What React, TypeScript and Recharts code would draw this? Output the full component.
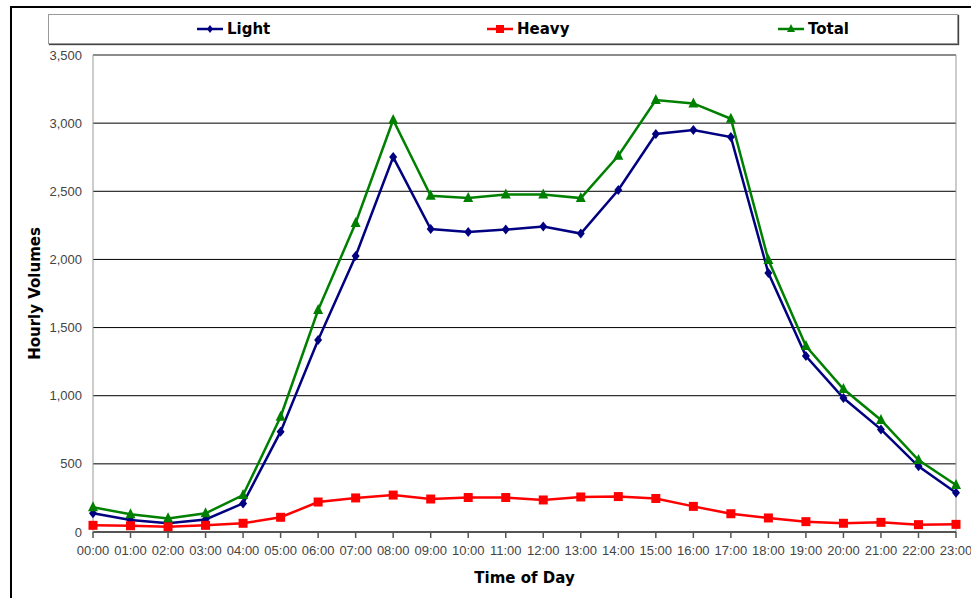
import {
  LineChart,
  Line,
  XAxis,
  YAxis,
  CartesianGrid,
  ReferenceLine,
} from 'recharts';

const hours = [
  '00:00', '01:00', '02:00', '03:00', '04:00', '05:00', '06:00', '07:00',
  '08:00', '09:00', '10:00', '11:00', '12:00', '13:00', '14:00', '15:00',
  '16:00', '17:00', '18:00', '19:00', '20:00', '21:00', '22:00', '23:00',
];

const light = [
  137, 88, 64, 92, 210, 736, 1409, 2025, 2751, 2223, 2201, 2219,
  2241, 2190, 2509, 2920, 2949, 2898, 1900, 1291, 983, 753, 482, 288,
];

const heavy = [
  49, 46, 39, 49, 64, 108, 220, 250, 271, 242, 253, 253,
  235, 257, 260, 246, 188, 134, 103, 76, 64, 71, 54, 56,
];

const total = [
  181, 130, 100, 137, 271, 846, 1629, 2267, 3023, 2467, 2450, 2477,
  2477, 2450, 2761, 3170, 3145, 3032, 1996, 1365, 1049, 822, 528, 345,
];

const yTicks = [0, 500, 1000, 1500, 2000, 2500, 3000, 3500];

const NAVY = '#000080';
const RED = '#FF0000';
const GREEN = '#008000';

const data = hours.map((hour, i) => ({
  hour,
  Light: light[i],
  Heavy: heavy[i],
  Total: total[i],
}));

const Diamond = ({ cx, cy }: any) =>
  cx == null ? null : (
    <polygon
      points={`${cx},${cy - 5} ${cx + 4},${cy} ${cx},${cy + 5} ${cx - 4},${cy}`}
      fill={NAVY}
    />
  );

const Square = ({ cx, cy }: any) =>
  cx == null ? null : (
    <rect x={cx - 4.5} y={cy - 4.5} width={9} height={9} fill={RED} />
  );

const Triangle = ({ cx, cy }: any) =>
  cx == null ? null : (
    <polygon
      points={`${cx},${cy - 6} ${cx + 5},${cy + 4} ${cx - 5},${cy + 4}`}
      fill={GREEN}
    />
  );

const boldFont = '"DejaVu Sans", sans-serif';
const tickFont = '"Liberation Sans", Arial, sans-serif';

function Swatch({ color, shape }: { color: string; shape: string }) {
  return (
    <svg width={26} height={12} style={{ marginRight: 4 }}>
      <line x1={0} y1={6} x2={26} y2={6} stroke={color} strokeWidth={2.5} />
      {shape === 'diamond' && (
        <polygon points="13,2 16,6 13,10 10,6" fill={color} />
      )}
      {shape === 'square' && <rect x={9} y={2} width={8} height={8} fill={color} />}
      {shape === 'triangle' && <polygon points="13,1 17,9 9,9" fill={color} />}
    </svg>
  );
}

const legendItems = [
  { name: 'Light', color: NAVY, shape: 'diamond', left: 148 },
  { name: 'Heavy', color: RED, shape: 'square', left: 438 },
  { name: 'Total', color: GREEN, shape: 'triangle', left: 729 },
];

export default function App() {
  return (
    <div
      style={{
        position: 'absolute',
        left: 0,
        top: 0,
        width: 971,
        height: 598,
        overflow: 'hidden',
        background: '#fff',
      }}
    >
      <div
        style={{
          position: 'absolute',
          left: 10,
          top: 6,
          width: 1000,
          height: 700,
          border: '2px solid #000',
        }}
      />
      <div style={{ position: 'absolute', left: 0, top: 0 }}>
        <LineChart
          width={971}
          height={598}
          data={data}
          margin={{ top: 55, right: 15, bottom: 36, left: 33 }}
        >
          <CartesianGrid vertical={false} stroke="#000" strokeWidth={1} />
          <XAxis
            dataKey="hour"
            interval={0}
            padding={{ left: 0, right: 0 }}
            height={30}
            axisLine={{ stroke: '#555', strokeWidth: 2 }}
            tickLine={{ stroke: '#555', strokeWidth: 1.5 }}
            tickSize={6}
            tickMargin={8}
            tick={{ fill: '#444', fontSize: 13, fontFamily: tickFont }}
            label={{
              value: 'Time of Day',
              position: 'bottom',
              offset: 10,
              style: {
                fontFamily: boldFont,
                fontWeight: 'bold',
                fontSize: 15,
                fill: '#000',
              },
            }}
          />
          <YAxis
            width={60}
            domain={[0, 3500]}
            ticks={yTicks}
            interval={0}
            axisLine={{ stroke: '#999' }}
            tickLine={false}
            tickSize={0}
            tickMargin={11}
            tickFormatter={(v: number) => v.toLocaleString('en-US')}
            tick={{ fill: '#444', fontSize: 13, fontFamily: tickFont }}
            label={{
              value: 'Hourly Volumes',
              angle: -90,
              position: 'insideLeft',
              offset: 2,
              style: {
                textAnchor: 'middle',
                fontFamily: boldFont,
                fontWeight: 'bold',
                fontSize: 15,
                fill: '#000',
              },
            }}
          />
          <ReferenceLine y={3500} stroke="#999" />
          <ReferenceLine x="23:00" stroke="#999" />
          <Line
            dataKey="Light"
            stroke={NAVY}
            strokeWidth={2.5}
            dot={<Diamond />}
            isAnimationActive={false}
          />
          <Line
            dataKey="Heavy"
            stroke={RED}
            strokeWidth={2.5}
            dot={<Square />}
            isAnimationActive={false}
          />
          <Line
            dataKey="Total"
            stroke={GREEN}
            strokeWidth={2.5}
            dot={<Triangle />}
            isAnimationActive={false}
          />
        </LineChart>
      </div>
      <div
        style={{
          position: 'absolute',
          left: 48,
          top: 14,
          width: 908,
          height: 28,
          border: '1px solid #999',
          boxShadow: '1px 1px 1px #444',
          background: '#fff',
        }}
      >
        {legendItems.map((it) => (
          <div
            key={it.name}
            style={{
              position: 'absolute',
              left: it.left,
              top: 6,
              display: 'flex',
              alignItems: 'center',
              fontFamily: boldFont,
              fontWeight: 'bold',
              fontSize: 15,
              lineHeight: '16px',
            }}
          >
            <Swatch color={it.color} shape={it.shape} />
            {it.name}
          </div>
        ))}
      </div>
    </div>
  );
}
